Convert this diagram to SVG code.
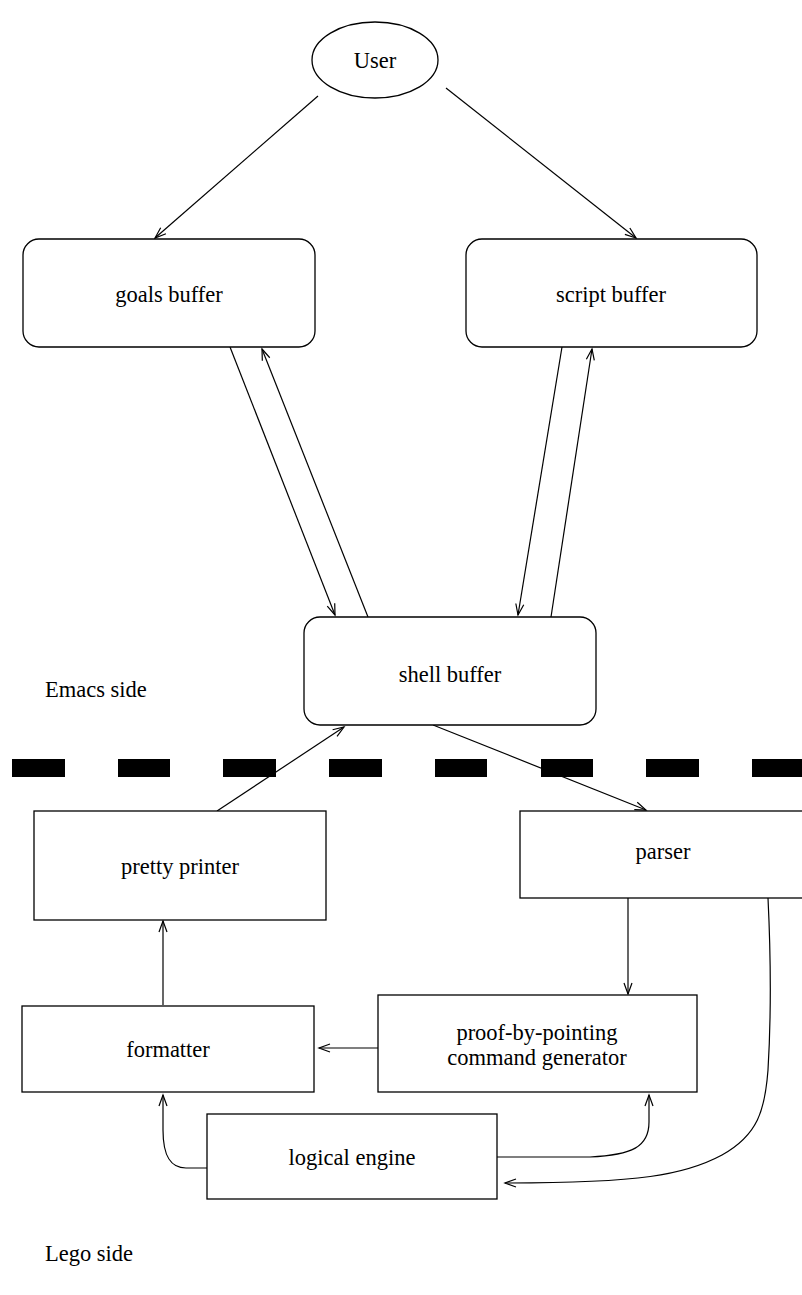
<svg xmlns="http://www.w3.org/2000/svg" width="802" height="1295" viewBox="0 0 802 1295">
<style>
.n{fill:#fff;stroke:#000;stroke-width:1.3}
.t{font-family:"Liberation Serif","Times New Roman",serif;font-size:22.5px;fill:#000;text-anchor:middle}
.l{font-family:"Liberation Serif","Times New Roman",serif;font-size:22.5px;fill:#000}
.c{fill:none;stroke:#000;stroke-width:1.2}
.d{fill:#000}
</style>
<defs>
<marker id="ah" markerUnits="userSpaceOnUse" markerWidth="14" markerHeight="12" viewBox="-12 -6 14 12" refX="0" refY="0" orient="auto">
<path d="M-11,-4 L0,0 L-11,4" fill="none" stroke="#000" stroke-width="1.2"/>
</marker>
</defs>
<rect width="802" height="1295" fill="#fff"/>
<g id="separator">
<rect class="d" x="12" y="759" width="53" height="18"/>
<rect class="d" x="118" y="759" width="52" height="18"/>
<rect class="d" x="223" y="759" width="53" height="18"/>
<rect class="d" x="329" y="759" width="53" height="18"/>
<rect class="d" x="435" y="759" width="52" height="18"/>
<rect class="d" x="541" y="759" width="52" height="18"/>
<rect class="d" x="646" y="759" width="53" height="18"/>
<rect class="d" x="752" y="759" width="52" height="18"/>
</g>
<g id="connectors">
<line class="c" x1="318" y1="96" x2="155" y2="238" marker-end="url(#ah)"/>
<line class="c" x1="446" y1="88" x2="636" y2="238" marker-end="url(#ah)"/>
<line class="c" x1="230" y1="347" x2="335" y2="615" marker-end="url(#ah)"/>
<line class="c" x1="368" y1="617" x2="262" y2="349" marker-end="url(#ah)"/>
<line class="c" x1="562" y1="347" x2="518" y2="615" marker-end="url(#ah)"/>
<line class="c" x1="551" y1="617" x2="592" y2="349" marker-end="url(#ah)"/>
<line class="c" x1="217" y1="811" x2="344" y2="727" marker-end="url(#ah)"/>
<line class="c" x1="433" y1="725" x2="646" y2="810" marker-end="url(#ah)"/>
<line class="c" x1="628" y1="898" x2="628" y2="994" marker-end="url(#ah)"/>
<path class="c" d="M768,898 C771,960 771,1020 768,1070 C765,1110 758,1135 722,1155 C685,1175 640,1183 505,1183" marker-end="url(#ah)"/>
<path class="c" d="M497,1157 L590,1157 C632,1155 649,1147 649,1122 L649,1095" marker-end="url(#ah)"/>
<path class="c" d="M207,1168 L186,1168 C171,1168 163,1157 163,1130 L163,1095" marker-end="url(#ah)"/>
<line class="c" x1="378" y1="1048" x2="319" y2="1048" marker-end="url(#ah)"/>
<line class="c" x1="163" y1="1005" x2="163" y2="921" marker-end="url(#ah)"/>
</g>
<g id="user">
<ellipse class="n" cx="375" cy="60" rx="63" ry="38"/>
<text class="t" x="375" y="68">User</text>
</g>
<g id="goals-buffer">
<rect class="n" x="23" y="239" width="292" height="108" rx="16"/>
<text class="t" x="169" y="302">goals buffer</text>
</g>
<g id="script-buffer">
<rect class="n" x="466" y="239" width="291" height="108" rx="16"/>
<text class="t" x="611" y="302">script buffer</text>
</g>
<g id="shell-buffer">
<rect class="n" x="304" y="617" width="292" height="108" rx="16"/>
<text class="t" x="450" y="682">shell buffer</text>
</g>
<g id="emacs-side">
<text class="l" x="45" y="697">Emacs side</text>
</g>
<g id="pretty-printer">
<rect class="n" x="34" y="811" width="292" height="109"/>
<text class="t" x="180" y="874">pretty printer</text>
</g>
<g id="parser">
<rect class="n" x="520" y="811" width="290" height="87"/>
<text class="t" x="663" y="859">parser</text>
</g>
<g id="proof-by-pointing">
<rect class="n" x="378" y="995" width="319" height="97"/>
<text class="t" x="537" y="1040">proof-by-pointing</text>
<text class="t" x="537" y="1065">command generator</text>
</g>
<g id="formatter">
<rect class="n" x="22" y="1006" width="292" height="86"/>
<text class="t" x="168" y="1057">formatter</text>
</g>
<g id="logical-engine">
<rect class="n" x="207" y="1114" width="290" height="85"/>
<text class="t" x="352" y="1165">logical engine</text>
</g>
<g id="lego-side">
<text class="l" x="45" y="1261">Lego side</text>
</g>
</svg>
